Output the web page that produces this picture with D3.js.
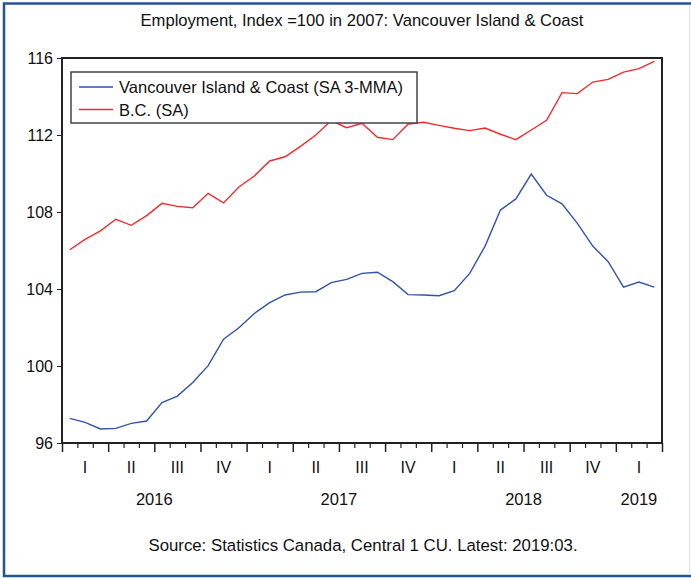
<!DOCTYPE html>
<html>
<head>
<meta charset="utf-8">
<script src="https://cdn.jsdelivr.net/npm/d3@7"></script>
<style>
  body { margin: 0; background: #fff; }
  text { font-family: Arial, "Liberation Sans", sans-serif; fill: #111; }
  .narrow { font-family: "Liberation Sans Narrow", "Arial Narrow", Arial, "Liberation Sans", sans-serif; }
</style>
</head>
<body>
<div id="chart"></div>
<script>
// monthly, 2016:01 .. 2019:03
const months = d3.range(39);
const quarters = ["I","II","III","IV","I","II","III","IV","I","II","III","IV","I"];
const years = ["2016","2017","2018","2019"];
const yTicks = [96, 100, 104, 108, 112, 116];

const vic = [97.28, 97.07, 96.73, 96.76, 97.02, 97.14, 98.10, 98.44, 99.14, 100.02,
  101.39, 101.99, 102.73, 103.29, 103.69, 103.84, 103.86, 104.33, 104.50, 104.81,
  104.87, 104.38, 103.71, 103.69, 103.65, 103.91, 104.81, 106.23, 108.10, 108.68,
  109.97, 108.87, 108.42, 107.41, 106.23, 105.42, 104.10, 104.36, 104.10];
const bc = [106.04, 106.58, 107.02, 107.62, 107.31, 107.81, 108.45, 108.29, 108.22, 108.97,
  108.47, 109.30, 109.87, 110.65, 110.87, 111.41, 112.00, 112.75, 112.38, 112.61,
  111.88, 111.76, 112.57, 112.66, 112.50, 112.35, 112.23, 112.36, 112.04, 111.76,
  112.26, 112.76, 114.20, 114.15, 114.75, 114.89, 115.27, 115.45, 115.83];

const W = 691, H = 579;
const plot = {left: 62, right: 662, top: 58, bottom: 443};

const svg = d3.select("#chart").append("svg")
  .attr("width", W).attr("height", H);

// outer frame
svg.append("rect").attr("x", 4).attr("y", 3.5).attr("width", W + 10).attr("height", 572.5)
  .attr("fill", "none").attr("stroke", "#27538f").attr("stroke-width", 2.5);
svg.append("line").attr("x1", 689.5).attr("x2", 689.5).attr("y1", 5).attr("y2", 575)
  .attr("stroke", "#dde3ec").attr("stroke-width", 1);

const x = d3.scaleBand().domain(months).range([plot.left, plot.right]).padding(0);
const xb = d3.scaleLinear().domain([0, 39]).range([plot.left, plot.right]);
const y = d3.scaleLinear().domain([96, 116]).range([plot.bottom, plot.top]);

// title
svg.append("text").attr("class", "narrow")
  .attr("x", 362).attr("y", 26).attr("text-anchor", "middle")
  .style("font-size", "16.6px")
  .text("Employment, Index =100 in 2007: Vancouver Island & Coast");

// y axis
svg.append("g").attr("transform", `translate(${plot.left},0)`)
  .call(d3.axisLeft(y).tickValues(yTicks).tickSize(5).tickPadding(4))
  .call(g => g.select(".domain").remove())
  .call(g => g.selectAll("line").attr("stroke", "#222"))
  .call(g => g.selectAll("text").style("font-size", "16px").attr("fill", "#111"));

// x axis: monthly minor, quarterly major ticks
svg.append("g").attr("transform", `translate(0,${plot.bottom})`)
  .call(d3.axisBottom(xb).tickValues(months.concat([39]).filter(i => i % 3 != 0)).tickSize(5).tickFormat(""))
  .call(g => g.select(".domain").remove())
  .call(g => g.selectAll("line").attr("stroke", "#222").attr("stroke-width", 1.2));
svg.append("g").attr("transform", `translate(0,${plot.bottom})`)
  .call(d3.axisBottom(xb).tickValues(d3.range(0, 40, 3)).tickSize(9).tickFormat(""))
  .call(g => g.select(".domain").remove())
  .call(g => g.selectAll("line").attr("stroke", "#222").attr("stroke-width", 1.5));

// quarter labels
svg.append("g").selectAll("text").data(quarters).join("text")
  .attr("class", "narrow")
  .attr("x", (d, i) => xb(i * 3 + 1.5))
  .attr("y", 473).attr("text-anchor", "middle")
  .style("font-size", "16px")
  .text(d => d);

// year labels
svg.append("g").selectAll("text").data(years).join("text")
  .attr("class", "narrow")
  .attr("x", (d, i) => i < 3 ? xb(i * 12 + 6) : xb(37.5))
  .attr("y", 505).attr("text-anchor", "middle")
  .style("font-size", "16.5px")
  .text(d => d);

// lines
const line = d3.line()
  .x((d, i) => x(i) + x.bandwidth() / 2)
  .y(d => y(d));

svg.append("path").datum(bc).attr("d", line)
  .attr("fill", "none").attr("stroke", "#ef2b2d").attr("stroke-width", 1.4);
svg.append("path").datum(vic).attr("d", line)
  .attr("fill", "none").attr("stroke", "#3153a8").attr("stroke-width", 1.4);

// plot frame
svg.append("rect").attr("x", plot.left).attr("y", plot.top)
  .attr("width", plot.right - plot.left).attr("height", plot.bottom - plot.top)
  .attr("fill", "none").attr("stroke", "#222").attr("stroke-width", 2);

// legend
const lg = svg.append("g");
lg.append("rect").attr("x", 71).attr("y", 72).attr("width", 346).attr("height", 51)
  .attr("fill", "#fff").attr("stroke", "#444").attr("stroke-width", 1.5);
const items = [
  { name: "Vancouver Island & Coast (SA 3-MMA)", color: "#3153a8" },
  { name: "B.C. (SA)", color: "#ef2b2d" }
];
items.forEach((it, i) => {
  const yy = 87 + i * 22.5;
  lg.append("line").attr("x1", 79).attr("x2", 113).attr("y1", yy).attr("y2", yy)
    .attr("stroke", it.color).attr("stroke-width", 1.4);
  lg.append("text").attr("x", 119).attr("y", yy + 6)
    .style("font-size", "16.5px").text(it.name);
});

// source
svg.append("text").attr("class", "narrow")
  .attr("x", 363).attr("y", 551).attr("text-anchor", "middle")
  .style("font-size", "16.8px")
  .text("Source: Statistics Canada, Central 1 CU. Latest: 2019:03.");
</script>
</body>
</html>
